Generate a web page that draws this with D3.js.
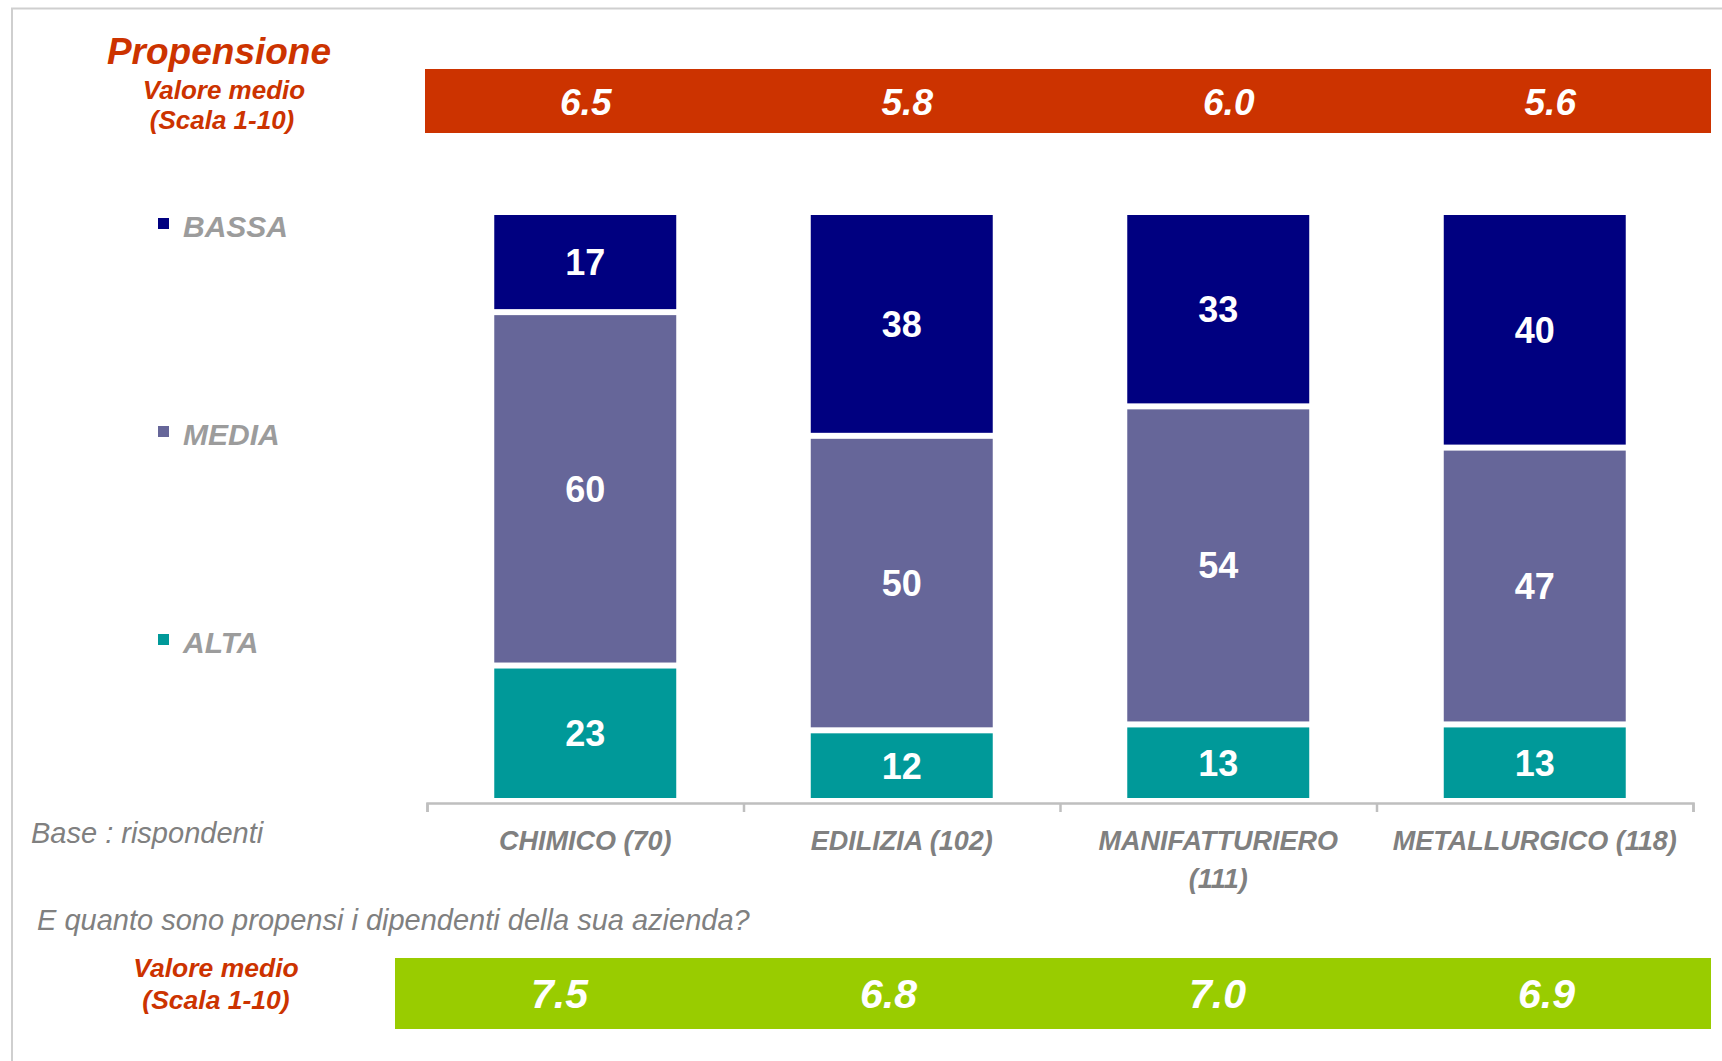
<!DOCTYPE html>
<html>
<head>
<meta charset="utf-8">
<script src="https://cdn.jsdelivr.net/npm/d3@7"></script>
<style>
  body { margin: 0; background: #fff; }
  svg text { font-family: "Liberation Sans", Arial, sans-serif; }
</style>
</head>
<body>
<div class="chart"></div>
<script>
// data
const categories = ["CHIMICO (70)", "EDILIZIA (102)", "MANIFATTURIERO (111)", "METALLURGICO (118)"];
const tickLines = [["CHIMICO (70)"], ["EDILIZIA (102)"], ["MANIFATTURIERO", "(111)"], ["METALLURGICO (118)"]];
const alta = [23, 12, 13, 13];
const media = [60, 50, 54, 47];
const bassa = [17, 38, 33, 40];
const propensione = ["6.5", "5.8", "6.0", "5.6"];
const propensioneDipendenti = ["7.5", "6.8", "7.0", "6.9"];
const seriesKeys = ["alta", "media", "bassa"];
const legendLabels = ["BASSA", "MEDIA", "ALTA"];

const width = 1722, height = 1061;
const colors = { bassa: "#000080", media: "#666699", alta: "#009999" };
const red = "#cc3300", green = "#99cc00";

const svg = d3.select(".chart").append("svg")
  .attr("width", width)
  .attr("height", height);

// frame
svg.append("rect")
  .attr("x", 12).attr("y", 8.5)
  .attr("width", width + 50).attr("height", height + 50)
  .attr("fill", "none")
  .attr("stroke", "#cfcfcf")
  .attr("stroke-width", 2);

const rows = categories.map((c, i) => ({ cat: c, alta: alta[i], media: media[i], bassa: bassa[i] }));
const stacked = d3.stack().keys(seriesKeys)(rows);

const x = d3.scaleBand().domain(categories).range([427, 1693]).paddingInner(0.425).paddingOuter(0.2125);
const y = d3.scaleLinear().domain([0, 100]).range([801, 212]);
const gap = 6;

// stacked bars
const layer = svg.selectAll(".layer")
  .data(stacked)
  .enter().append("g")
  .attr("class", "layer")
  .attr("fill", d => colors[d.key]);

layer.selectAll("rect")
  .data(d => d)
  .enter().append("rect")
  .attr("x", d => x(d.data.cat))
  .attr("width", x.bandwidth())
  .attr("y", d => y(d[1]) + gap / 2)
  .attr("height", d => y(d[0]) - y(d[1]) - gap);

layer.selectAll("text")
  .data(d => d.map(v => ({ v, key: d.key })))
  .enter().append("text")
  .attr("x", d => x(d.v.data.cat) + x.bandwidth() / 2)
  .attr("y", d => (y(d.v[0]) + y(d.v[1])) / 2)
  .attr("dy", "0.36em")
  .attr("text-anchor", "middle")
  .attr("fill", "#fff")
  .attr("font-weight", "bold")
  .attr("font-size", "36px")
  .text(d => d.v.data[d.key]);

// axis: ticks at category boundaries
const bounds = d3.scaleLinear().domain([0, 4]).range([427, 1693]);
const axisG = svg.append("g")
  .attr("transform", "translate(0,803)")
  .call(d3.axisBottom(bounds).ticks(4).tickSizeInner(9).tickSizeOuter(9).tickFormat(""));
axisG.selectAll("path, line").attr("stroke", "#bfbfbf").attr("stroke-width", 2.5);

const xLab = d3.scaleBand().domain(categories).range([427, 1693]);
svg.append("g").selectAll("text")
  .data(categories)
  .enter().append("text")
  .attr("x", d => xLab(d) + xLab.bandwidth() / 2)
  .attr("y", 850)
  .attr("text-anchor", "middle")
  .attr("fill", "#808080")
  .attr("font-weight", "bold")
  .attr("font-style", "italic")
  .attr("font-size", "27px")
  .each(function (d, i) {
    const t = d3.select(this);
    tickLines[i].forEach((line, j) => {
      t.append("tspan")
        .attr("x", xLab(d) + xLab.bandwidth() / 2)
        .attr("dy", j === 0 ? 0 : 38)
        .text(line);
    });
  });

// legend
const legendY = [230, 438, 646];
const legendKeys = ["bassa", "media", "alta"];
const legend = svg.append("g").selectAll("g")
  .data(legendLabels)
  .enter().append("g");
legend.append("rect")
  .attr("x", 158)
  .attr("y", (d, i) => legendY[i] - 12)
  .attr("width", 11).attr("height", 11)
  .attr("fill", (d, i) => colors[legendKeys[i]]);
legend.append("text")
  .attr("x", 183)
  .attr("y", (d, i) => legendY[i] + 7)
  .attr("fill", "#9c9c9c")
  .attr("font-weight", "bold")
  .attr("font-style", "italic")
  .attr("font-size", "30px")
  .text(d => d);

// top band: Propensione
const xTop = d3.scaleBand().domain(categories).range([425, 1711]);
svg.append("rect")
  .attr("x", 425).attr("y", 69)
  .attr("width", 1711 - 425).attr("height", 64)
  .attr("fill", red);
svg.append("g").selectAll("text")
  .data(propensione)
  .enter().append("text")
  .attr("x", (d, i) => xTop(categories[i]) + xTop.bandwidth() / 2)
  .attr("y", 115)
  .attr("text-anchor", "middle")
  .attr("fill", "#fff")
  .attr("font-weight", "bold")
  .attr("font-style", "italic")
  .attr("font-size", "37px")
  .text(d => d);

// bottom band: dipendenti
const xBot = d3.scaleBand().domain(categories).range([395, 1711]);
svg.append("rect")
  .attr("x", 395).attr("y", 958)
  .attr("width", 1711 - 395).attr("height", 71)
  .attr("fill", green);
svg.append("g").selectAll("text")
  .data(propensioneDipendenti)
  .enter().append("text")
  .attr("x", (d, i) => xBot(categories[i]) + xBot.bandwidth() / 2)
  .attr("y", 1008)
  .attr("text-anchor", "middle")
  .attr("fill", "#fff")
  .attr("font-weight", "bold")
  .attr("font-style", "italic")
  .attr("font-size", "41px")
  .text(d => d);

// titles and notes
function label(txt, x0, y0, size, color, weight, anchor) {
  svg.append("text")
    .attr("x", x0).attr("y", y0)
    .attr("text-anchor", anchor || "middle")
    .attr("fill", color)
    .attr("font-weight", weight)
    .attr("font-style", "italic")
    .attr("font-size", size + "px")
    .text(txt);
}
label("Propensione", 219, 64, 37, red, "bold");
label("Valore medio", 224, 99, 26, red, "bold");
label("(Scala 1-10)", 222, 129, 26, red, "bold");
label("Valore medio", 216, 977, 26.5, red, "bold");
label("(Scala 1-10)", 216, 1009, 26.5, red, "bold");
label("Base : rispondenti", 31, 843, 29, "#808080", "normal", "start");
label("E quanto sono propensi i dipendenti della sua azienda?", 37, 930, 29, "#808080", "normal", "start");
</script>
</body>
</html>
